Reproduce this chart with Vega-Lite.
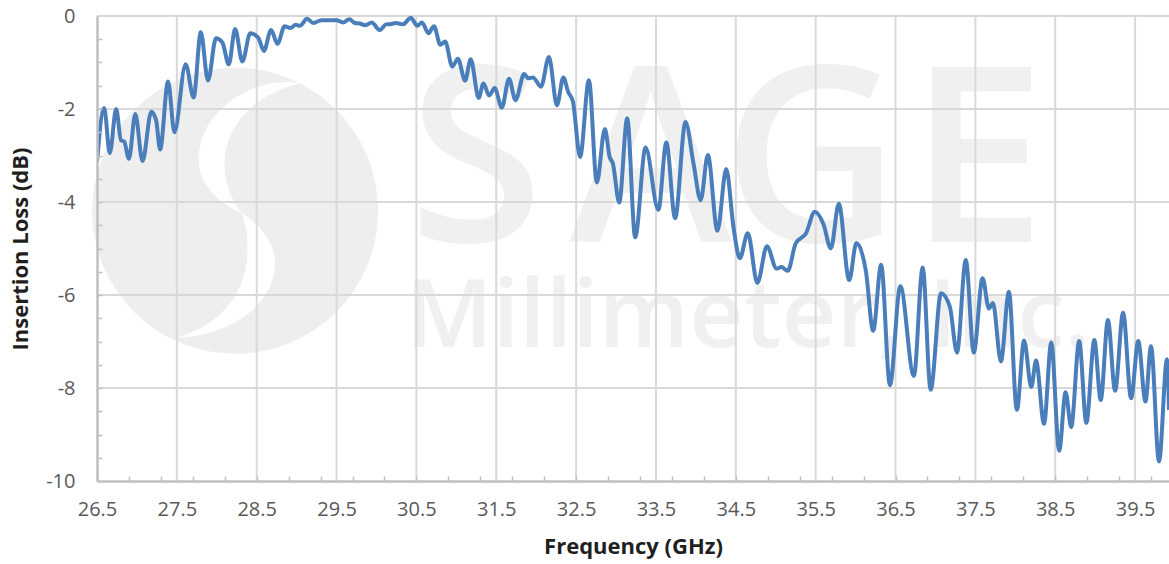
{"$schema":"https://vega.github.io/schema/vega-lite/v6.json","width":1072,"height":465,"autosize":{"type":"none"},"padding":{"left":97,"top":16,"right":0,"bottom":83},"background":"white","config":{"view":{"stroke":null}},
"datasets":{"loss":[{"f":26.5,"db":-3.14},{"f":26.59,"db":-1.98},{"f":26.66,"db":-2.95},{"f":26.74,"db":-2.0},{"f":26.8,"db":-2.67},{"f":26.84,"db":-2.7},{"f":26.9,"db":-3.07},{"f":26.98,"db":-2.11},{"f":27.07,"db":-3.12},{"f":27.18,"db":-2.06},{"f":27.24,"db":-2.24},{"f":27.29,"db":-2.87},{"f":27.39,"db":-1.41},{"f":27.47,"db":-2.5},{"f":27.61,"db":-1.04},{"f":27.71,"db":-1.75},{"f":27.8,"db":-0.35},{"f":27.89,"db":-1.39},{"f":27.99,"db":-0.48},{"f":28.07,"db":-0.57},{"f":28.15,"db":-1.04},{"f":28.23,"db":-0.28},{"f":28.32,"db":-0.98},{"f":28.42,"db":-0.37},{"f":28.52,"db":-0.47},{"f":28.59,"db":-0.75},{"f":28.68,"db":-0.3},{"f":28.76,"db":-0.6},{"f":28.85,"db":-0.22},{"f":28.92,"db":-0.26},{"f":28.99,"db":-0.19},{"f":29.04,"db":-0.21},{"f":29.13,"db":-0.06},{"f":29.21,"db":-0.15},{"f":29.31,"db":-0.09},{"f":29.5,"db":-0.09},{"f":29.58,"db":-0.14},{"f":29.66,"db":-0.07},{"f":29.73,"db":-0.15},{"f":29.79,"db":-0.16},{"f":29.86,"db":-0.2},{"f":29.94,"db":-0.14},{"f":30.04,"db":-0.3},{"f":30.12,"db":-0.18},{"f":30.19,"db":-0.17},{"f":30.24,"db":-0.15},{"f":30.33,"db":-0.18},{"f":30.43,"db":-0.04},{"f":30.51,"db":-0.21},{"f":30.57,"db":-0.14},{"f":30.65,"db":-0.37},{"f":30.72,"db":-0.22},{"f":30.8,"db":-0.62},{"f":30.86,"db":-0.55},{"f":30.95,"db":-1.09},{"f":31.02,"db":-0.92},{"f":31.11,"db":-1.39},{"f":31.18,"db":-0.93},{"f":31.28,"db":-1.76},{"f":31.34,"db":-1.45},{"f":31.41,"db":-1.71},{"f":31.48,"db":-1.55},{"f":31.57,"db":-1.97},{"f":31.66,"db":-1.35},{"f":31.74,"db":-1.81},{"f":31.85,"db":-1.25},{"f":31.9,"db":-1.34},{"f":31.96,"db":-1.32},{"f":32.06,"db":-1.52},{"f":32.16,"db":-0.88},{"f":32.26,"db":-1.92},{"f":32.34,"db":-1.32},{"f":32.4,"db":-1.63},{"f":32.46,"db":-1.84},{"f":32.55,"db":-3.03},{"f":32.66,"db":-1.38},{"f":32.76,"db":-3.58},{"f":32.86,"db":-2.43},{"f":32.92,"db":-3.03},{"f":32.96,"db":-3.17},{"f":33.04,"db":-4.01},{"f":33.14,"db":-2.2},{"f":33.24,"db":-4.76},{"f":33.37,"db":-2.83},{"f":33.53,"db":-4.17},{"f":33.63,"db":-2.72},{"f":33.74,"db":-4.35},{"f":33.87,"db":-2.28},{"f":33.97,"db":-3.17},{"f":34.06,"db":-3.96},{"f":34.15,"db":-2.99},{"f":34.27,"db":-4.62},{"f":34.38,"db":-3.29},{"f":34.47,"db":-4.53},{"f":34.55,"db":-5.21},{"f":34.65,"db":-4.67},{"f":34.77,"db":-5.74},{"f":34.89,"db":-4.95},{"f":35.01,"db":-5.43},{"f":35.07,"db":-5.4},{"f":35.15,"db":-5.48},{"f":35.25,"db":-4.89},{"f":35.38,"db":-4.67},{"f":35.49,"db":-4.21},{"f":35.6,"db":-4.49},{"f":35.69,"db":-5.0},{"f":35.79,"db":-4.04},{"f":35.92,"db":-5.68},{"f":36.01,"db":-4.88},{"f":36.13,"db":-5.5},{"f":36.22,"db":-6.77},{"f":36.32,"db":-5.35},{"f":36.43,"db":-7.94},{"f":36.56,"db":-5.81},{"f":36.73,"db":-7.74},{"f":36.84,"db":-5.41},{"f":36.94,"db":-8.04},{"f":37.07,"db":-5.96},{"f":37.18,"db":-6.25},{"f":37.27,"db":-7.24},{"f":37.38,"db":-5.25},{"f":37.48,"db":-7.24},{"f":37.59,"db":-5.64},{"f":37.67,"db":-6.29},{"f":37.72,"db":-6.17},{"f":37.82,"db":-7.43},{"f":37.92,"db":-5.93},{"f":38.02,"db":-8.47},{"f":38.11,"db":-6.98},{"f":38.2,"db":-7.98},{"f":38.26,"db":-7.41},{"f":38.36,"db":-8.77},{"f":38.45,"db":-7.02},{"f":38.55,"db":-9.35},{"f":38.63,"db":-8.09},{"f":38.7,"db":-8.84},{"f":38.8,"db":-6.99},{"f":38.89,"db":-8.75},{"f":38.99,"db":-6.97},{"f":39.07,"db":-8.26},{"f":39.16,"db":-6.54},{"f":39.25,"db":-8.06},{"f":39.35,"db":-6.38},{"f":39.45,"db":-8.22},{"f":39.54,"db":-6.99},{"f":39.63,"db":-8.29},{"f":39.7,"db":-7.1},{"f":39.8,"db":-9.58},{"f":39.9,"db":-7.38},{"f":39.925,"db":-8.47}]},
"layer":[
{"data":{"values":[{"f":28.23,"db":-4.19}]},"mark":{"type":"point","filled":true,"fill":"#eeeeee","stroke":null,"opacity":1,"size":81796,"shape":"circle","clip":false},"encoding":{"x":{"field":"f","type":"quantitative","scale":{"domain":[26.5,39.925],"nice":false,"zero":false},"axis":{"orient":"bottom","values":[26.5,27.5,28.5,29.5,30.5,31.5,32.5,33.5,34.5,35.5,36.5,37.5,38.5,39.5],"format":".1f","title":"Frequency (GHz)","titleFont":"Open Sans","titleFontSize":22,"titleFontWeight":"bold","titleColor":"#1f1f1f","titlePadding":17,"labelFont":"Open Sans","labelFontSize":20,"labelColor":"#595959","labelPadding":18,"tickSize":0,"grid":false,"domainColor":"#bfbfbf","domainWidth":2.5,"zindex":1,"labelOverlap":false,"labelFlush":false}},"y":{"field":"db","type":"quantitative","scale":{"domain":[-10,0],"nice":false,"zero":false},"axis":{"orient":"left","values":[0,-2,-4,-6,-8,-10],"labelExpr":"'' + datum.value","title":"Insertion Loss (dB)","titleFont":"Open Sans","titleFontSize":22,"titleFontWeight":"bold","titleColor":"#1f1f1f","titlePadding":13,"labelFont":"Open Sans","labelFontSize":20,"labelColor":"#595959","labelPadding":22,"tickSize":0,"grid":false,"domainColor":"#bfbfbf","domainWidth":2.5,"zindex":1}}}},
{"data":{"values":[{"f":28.23,"db":-4.19}]},"mark":{"type":"point","filled":true,"fill":"white","stroke":null,"opacity":1,"size":81796,"clip":false,"shape":"M.465 -.893C.1 -.95 -.26 -.68 -.256 -.353C-.25 -.18 -.12 -.06 .047 .019C.19 .1 .28 .24 .279 .367C.27 .68 -.05 .87 -.419 .891C-.1 .8 .09 .58 .086 .251C.086 .16 .07 .08 .047 .019C-.03 -.08 -.074 -.2 -.074 -.33C-.074 -.6 .15 -.83 .465 -.893Z"},"encoding":{"x":{"field":"f","type":"quantitative","axis":null},"y":{"field":"db","type":"quantitative","axis":null}}},
{"data":{"values":[{"t":"S","f":30.4,"db":-4.86},{"t":"A","f":32.42,"db":-4.86},{"t":"G","f":34.33,"db":-4.86},{"t":"E","f":36.67,"db":-4.86}]},"mark":{"type":"text","font":"Open Sans","fontSize":245,"fontWeight":600,"align":"left","baseline":"alphabetic","color":"#f0f0f0"},"encoding":{"x":{"field":"f","type":"quantitative","axis":null},"y":{"field":"db","type":"quantitative","axis":null},"text":{"field":"t"}}},
{"data":{"values":[{"t":"Millimeter, Inc.","f":30.36,"db":-7.12}]},"mark":{"type":"text","font":"Open Sans","fontSize":95,"fontWeight":600,"align":"left","baseline":"alphabetic","color":"#f0f0f0"},"encoding":{"x":{"field":"f","type":"quantitative","axis":null},"y":{"field":"db","type":"quantitative","axis":null},"text":{"field":"t"}}},
{"data":{"values":[{"g":27.5},{"g":28.5},{"g":29.5},{"g":30.5},{"g":31.5},{"g":32.5},{"g":33.5},{"g":34.5},{"g":35.5},{"g":36.5},{"g":37.5},{"g":38.5},{"g":39.5}]},"mark":{"type":"rule","color":"#d9d9d9","strokeWidth":2},"encoding":{"x":{"field":"g","type":"quantitative","axis":{"orient":"bottom","values":[26.5,26.9,27.3,27.7,28.1,28.5,28.9,29.3,29.7,30.1,30.5,30.9,31.3,31.7,32.1,32.5,32.9,33.3,33.7,34.1,34.5,34.9,35.3,35.7,36.1,36.5,36.9,37.3,37.7,38.1,38.5,38.9,39.3,39.7],"labels":false,"title":null,"domain":false,"grid":false,"tickSize":-5,"tickColor":"#bfbfbf","tickWidth":1.5,"zindex":1}}}},
{"data":{"values":[{"g":0},{"g":-2},{"g":-4},{"g":-6},{"g":-8}]},"mark":{"type":"rule","color":"#d9d9d9","strokeWidth":2},"encoding":{"y":{"field":"g","type":"quantitative","axis":{"orient":"left","values":[-0.5,-1,-1.5,-2,-2.5,-3,-3.5,-4,-4.5,-5,-5.5,-6,-6.5,-7,-7.5,-8,-8.5,-9,-9.5],"labels":false,"title":null,"domain":false,"grid":false,"tickSize":-5,"tickColor":"#bfbfbf","tickWidth":1.5,"zindex":1}}}},
{"data":{"name":"loss"},"mark":{"type":"line","color":"#4a7ebb","strokeWidth":4,"interpolate":"monotone","clip":true},"encoding":{"x":{"field":"f","type":"quantitative","axis":null},"y":{"field":"db","type":"quantitative","axis":null}}}
],"resolve":{"axis":{"x":"independent","y":"independent"}}}
